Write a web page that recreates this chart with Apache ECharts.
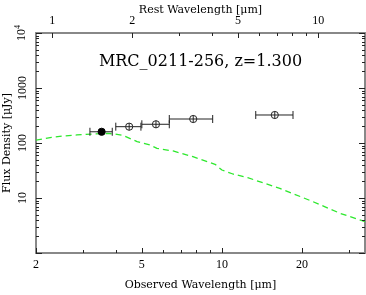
<!DOCTYPE html>
<html><head><meta charset="utf-8">
<script src="https://cdn.jsdelivr.net/npm/echarts@6/dist/echarts.min.js"></script>
<style>html,body{margin:0;padding:0;background:#fff}#c{width:366px;height:295px}</style>
</head><body><div id="c"></div>
<script>
// ---- data ----
const redshift = 1.3;
const obsWave = [3.53, 4.48, 5.65, 7.8, 15.8];
const waveLo  = [3.19, 3.99, 5.0, 6.34, 13.4];
const waveHi  = [3.87, 4.96, 6.34, 9.23, 18.5];
const fluxVal = [160, 198, 219, 273, 323];
const filled  = [1, 0, 0, 0, 0];
const modelWave = [2.0, 2.26, 2.52, 2.85, 3.27, 3.70, 3.96, 4.25, 4.80, 5.37, 5.70, 6.55, 7.78, 9.42, 10.0, 11.0, 12.5, 16.5, 22.0, 27.8, 34.5];
const modelFlux = [113, 125, 134, 140, 146, 149, 146, 137, 106, 92, 80, 71.6, 56.3, 41, 32.3, 27.3, 23.4, 15.0, 8.57, 5.27, 3.71];
const xMajor = [2, 5, 10, 20];
const xMinor = [3, 4, 6, 7, 8, 9, 30];
const restMajor = [1, 2, 5, 10];
const restMinor = [3, 4, 6, 7, 8, 9];
const yMajor = [1, 10, 100, 1000, 10000];
const yMinor = [2,3,4,5,6,7,8,9,20,30,40,50,60,70,80,90,200,300,400,500,600,700,800,900,2000,3000,4000,5000,6000,7000,8000,9000];
const xMin = 2, xMax = 34.5, yMin = 1, yMax = 10000;

const AX = '#888888';
const TK = '#222222';
const tickFont = 'Liberation Serif';
const nameFont = 'DejaVu Serif';

const chart = echarts.init(document.getElementById('c'), null, {renderer: 'canvas'});

function xAx(pos, min, max, major, extra) {
  return Object.assign({
    type: 'log', logBase: 10, position: pos, min: min, max: max,
    axisLine: {show: true, lineStyle: {color: AX, width: 2}},
    splitLine: {show: false},
    axisTick: {show: false},
    axisLabel: {show: true, customValues: major, color: '#000', fontFamily: tickFont, fontSize: 12, margin: 6,
      formatter: v => String(Math.round(v * 100) / 100)}
  }, extra || {});
}

const option = {
  animation: false,
  grid: {left: 36, right: 1, top: 33, bottom: 42, containLabel: false, outerBoundsMode: 'none'},
  xAxis: [
    xAx('bottom', xMin, xMax, xMajor, {
      name: 'Observed Wavelength [μm]', nameLocation: 'middle', nameGap: 27, nameMoveOverlap: false,
      nameTextStyle: {fontFamily: nameFont, fontSize: 11, color: '#000'}}),
    xAx('top', xMin / (1 + redshift), xMax / (1 + redshift), restMajor, {
      name: 'Rest Wavelength [μm]', nameLocation: 'middle', nameGap: 17, nameMoveOverlap: false,
      nameTextStyle: {fontFamily: nameFont, fontSize: 11, color: '#000'}})
  ],
  yAxis: [
    {type: 'log', logBase: 10, position: 'left', min: yMin, max: yMax,
     axisLine: {show: true, lineStyle: {color: AX, width: 2}}, splitLine: {show: false},
     axisTick: {show: false},
     axisLabel: {show: true, customValues: yMajor, rotate: 90, margin: 7, color: '#000', fontFamily: tickFont, fontSize: 12,
       formatter: v => { const r = Math.round(v); if (r === 1) return ''; if (r === 10000) return '10{s|4}'; return String(r); },
       rich: {s: {fontFamily: tickFont, fontSize: 8, verticalAlign: 'bottom', padding: [0,0,7,0], color:'#000'}}},
     name: 'Flux Density [μJy]', nameLocation: 'middle', nameGap: 23, nameRotate: 90, nameMoveOverlap: false,
     nameTextStyle: {fontFamily: nameFont, fontSize: 11, color: '#000'}},
    {type: 'log', logBase: 10, position: 'right', min: yMin, max: yMax,
     axisLine: {show: true, lineStyle: {color: AX, width: 2}}, splitLine: {show: false}, axisLabel: {show: false},
     axisTick: {show: false}}
  ],
  series: [
    {type: 'line', xAxisIndex: 0, yAxisIndex: 0, showSymbol: false, symbol: 'none',
     data: modelWave.map((w, i) => [w, modelFlux[i]]),
     lineStyle: {color: '#2ee82e', width: 1.3, type: [6, 4]}, z: 2},
    {type: 'custom', xAxisIndex: 0, yAxisIndex: 0, z: 3,
     data: obsWave.map((w, i) => [w, fluxVal[i], waveLo[i], waveHi[i], filled[i]]),
     renderItem: function (params, api) {
       const c = api.coord([api.value(0), api.value(1)]);
       const lo = api.coord([api.value(2), api.value(1)]);
       const hi = api.coord([api.value(3), api.value(1)]);
       const col = '#222', r = 3.6, cap = 4;
       const st = {stroke: col, lineWidth: 1, fill: null};
       const kids = [
         {type: 'line', shape: {x1: lo[0], y1: c[1], x2: c[0] - r, y2: c[1]}, style: st},
         {type: 'line', shape: {x1: c[0] + r, y1: c[1], x2: hi[0], y2: c[1]}, style: st},
         {type: 'line', shape: {x1: lo[0], y1: c[1] - cap, x2: lo[0], y2: c[1] + cap}, style: st},
         {type: 'line', shape: {x1: hi[0], y1: c[1] - cap, x2: hi[0], y2: c[1] + cap}, style: st}
       ];
       if (api.value(4)) {
         kids.push({type: 'circle', shape: {cx: c[0], cy: c[1], r: r}, style: {fill: '#000', stroke: '#000'}});
       } else {
         kids.push({type: 'circle', shape: {cx: c[0], cy: c[1], r: r}, style: st});
         kids.push({type: 'line', shape: {x1: c[0] - r, y1: c[1], x2: c[0] + r, y2: c[1]}, style: st});
         kids.push({type: 'line', shape: {x1: c[0], y1: c[1] - r, x2: c[0], y2: c[1] + r}, style: st});
       }
       return {type: 'group', children: kids};
     }}
  ]
};
chart.setOption(option);

// tick marks placed through the axes' own scales
const px = (i, v) => chart.convertToPixel({xAxisIndex: i}, v);
const py = v => chart.convertToPixel({yAxisIndex: 0}, v);
const L = px(0, xMin), R = px(0, xMax), B = py(yMin), T = py(yMax);
const els = [];
const tstyle = {stroke: TK, lineWidth: 1};
function addX(idx, vals, yEdge, dir, len) {
  vals.forEach(v => { const x = Math.round(px(idx, v)) + 0.5;
    els.push({type: 'line', silent: true, z: 10, shape: {x1: x, y1: yEdge, x2: x, y2: yEdge + dir * len}, style: tstyle}); });
}
function addY(vals, xEdge, dir, len) {
  vals.forEach(v => { const y = Math.round(py(v)) + 0.5;
    els.push({type: 'line', silent: true, z: 10, shape: {x1: xEdge, y1: y, x2: xEdge + dir * len, y2: y}, style: tstyle}); });
}
addX(0, xMajor, B, -1, 5);
addX(0, xMinor, B, -1, 3);
addX(1, restMajor, T, 1, 5);
addX(1, restMinor, T, 1, 3);
addY(yMajor, L, 1, 6);
addY(yMinor, L, 1, 3);
addY(yMajor, R, -1, 6);
addY(yMinor, R, -1, 3);
els.push({type: 'text', x: (L + R) / 2, y: 62, z: 10,
  style: {text: 'MRC_0211-256, z=1.300', fontFamily: nameFont, fontSize: 16, fill: '#000', align: 'center', verticalAlign: 'middle'}});
chart.setOption({graphic: {elements: els}});
</script></body></html>
